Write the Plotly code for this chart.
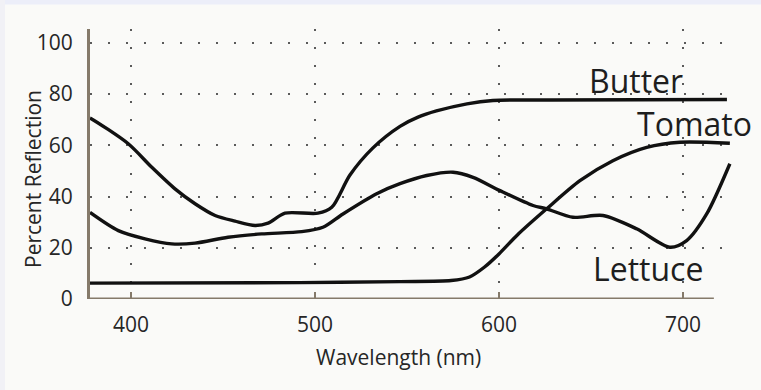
import plotly.graph_objects as go

# Data (wavelength in nm, percent reflection)
butter_x = [377.7, 378.6, 398.5, 411.3, 423.9, 434.8, 445.7, 456.5, 467.4, 474.5, 483.7, 501.6, 509.1,
            519.0, 531.5, 546.2, 556.0, 566.0, 582.6, 596.7, 627.7, 723.9]
butter_y = [70.6, 70.3, 60.6, 51.4, 43.0, 37.2, 32.6, 30.4, 28.7, 29.6, 33.5, 33.5, 35.8,
            48.4, 59.0, 67.4, 71.0, 73.4, 76.2, 77.5, 77.7, 77.9]

lettuce_x = [377.7, 393.1, 407.6, 422.1, 434.8, 452.7, 471.0, 492.8, 504.3, 515.2, 533.5, 546.2, 560.7,
             575.0, 585.9, 600.5, 618.5, 625.9, 640.2, 656.5, 674.8, 692.9, 702.0, 712.9, 725.5]
lettuce_y = [33.8, 26.7, 23.5, 21.5, 21.8, 24.1, 25.4, 26.3, 28.0, 33.2, 41.1, 45.0, 48.2,
             49.5, 47.5, 42.3, 36.5, 35.2, 31.9, 32.6, 27.4, 20.2, 22.8, 33.2, 52.8]

tomato_x = [377.7, 491.8, 546.2, 574.0, 584.0, 592.0, 600.0, 610.0, 625.9, 644.0, 661.9, 680.3, 698.4, 725.5]
tomato_y = [6.2, 6.4, 6.8, 7.2, 8.6, 12.4, 17.6, 25.0, 35.2, 46.2, 54.0, 59.2, 61.2, 60.8]

x_ticks = [400, 500, 600, 700]
y_ticks = [0, 20, 40, 60, 80, 100]

labels = ["Butter", "Tomato", "Lettuce"]
label_x = [648.0, 674.0, 650.0]
label_y = [85.3, 68.7, 11.9]

FONT = "Open Sans"
AXIS_COL = "#857a6a"
TXT = "#262626"

fig = go.Figure()
for xs, ys in [(butter_x, butter_y), (lettuce_x, lettuce_y), (tomato_x, tomato_y)]:
    fig.add_trace(go.Scatter(x=xs, y=ys, mode="lines",
                             line=dict(color="#111111", width=3.4, shape="spline", smoothing=0.8),
                             showlegend=False, hoverinfo="skip"))

for t, lx, ly in zip(labels, label_x, label_y):
    fig.add_annotation(x=lx, y=ly, xref="x", yref="y", text=t, showarrow=False,
                       xanchor="left", yanchor="middle",
                       font=dict(family=FONT, size=32, color="#1e1e1e"))

# axis titles
fig.add_annotation(x=(398.5 - 90) / 643, y=-(357 - 299) / 270, xref="paper", yref="paper",
                   text="Wavelength (nm)", showarrow=False, xanchor="center", yanchor="middle",
                   font=dict(family=FONT, size=21, color=TXT))
fig.add_annotation(x=(33 - 90) / 643, y=(299 - 179) / 270, xref="paper", yref="paper",
                   text="Percent Reflection", showarrow=False, textangle=-90,
                   xanchor="center", yanchor="middle",
                   font=dict(family=FONT, size=21, color=TXT))

# top/left lavender strips
fig.add_shape(type="rect", xref="paper", yref="paper", x0=-0.2, x1=1.1,
              y0=1 + 24.5 / 270, y1=1 + 40 / 270, fillcolor="#eceef9", line_width=0, layer="below")
fig.add_shape(type="rect", xref="paper", yref="paper", x0=-0.2, x1=-85 / 643,
              y0=-0.5, y1=1.2, fillcolor="#f1f1f6", line_width=0, layer="below")

# x axis line (shorter than the plot area)
fig.add_shape(type="line", xref="x", yref="y", x0=377.7, x1=716.8, y0=0, y1=0,
              line=dict(color=AXIS_COL, width=3))

fig.update_layout(
    width=761, height=390,
    margin=dict(l=90, r=28, t=29, b=91),
    paper_bgcolor="#fafaf8", plot_bgcolor="#fafaf8",
    font=dict(family=FONT, color=TXT),
)
fig.update_xaxes(range=[377.7, 727.2], tickvals=x_ticks, ticktext=[str(v) for v in x_ticks],
                 showgrid=True, gridcolor="#5a5a5a", gridwidth=2, griddash="2px,16px",
                 zeroline=False, showline=False,
                 ticks="inside", ticklen=7, tickwidth=2, tickcolor=AXIS_COL,
                 ticklabelstandoff=11,
                 tickfont=dict(family=FONT, size=21, color=TXT))
fig.update_yaxes(range=[0, 105.4], tickvals=y_ticks, ticktext=[str(v) for v in y_ticks],
                 showgrid=True, gridcolor="#5a5a5a", gridwidth=2, griddash="2px,16px",
                 zeroline=False, showline=True, linecolor=AXIS_COL, linewidth=3,
                 ticks="", ticklabelstandoff=10,
                 tickfont=dict(family=FONT, size=21, color=TXT))

fig.write_html("out.html")
